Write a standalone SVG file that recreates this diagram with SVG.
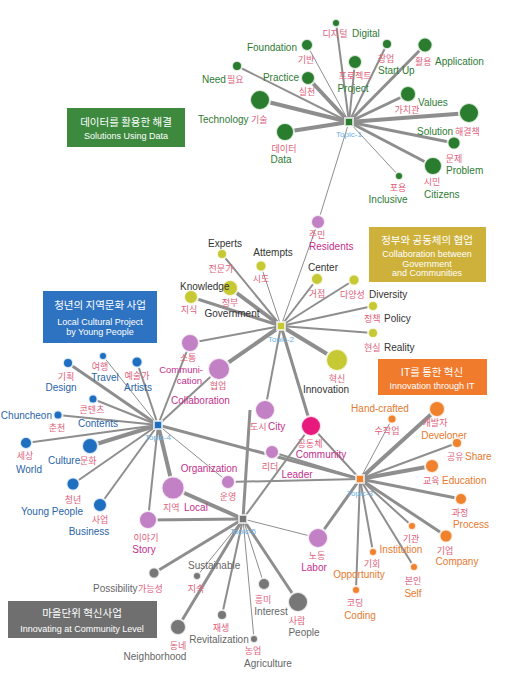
<svg xmlns="http://www.w3.org/2000/svg" width="515" height="678" viewBox="0 0 515 678">
<style>
.e{stroke:#8e8e8e;fill:none}
.w1{stroke-width:1}.w2{stroke-width:2}.w3{stroke-width:3}.w4{stroke-width:4}
text{font-family:"Liberation Sans","Noto Sans CJK KR",sans-serif;font-size:10px}
.ko{font-family:"Noto Sans CJK KR",sans-serif;font-size:9px;fill:#e0607a}
.mid{text-anchor:middle}.end{text-anchor:end}
.g{fill:#2f7a35}.dk{fill:#333}.m{fill:#c3308c}.b{fill:#2a64a8}.o{fill:#e57a30}.gr{fill:#666}
.sm{font-size:9.5px}
circle{stroke:#fff;stroke-opacity:0.8;stroke-width:2}
.ng{fill:#2a7d2e}.ny{fill:#c7c934}.np{fill:#c281c4}.nh{fill:#e8197d}.nb{fill:#1f6fc0}.no{fill:#f0822e}.nx{fill:#777}
.t{font-size:8px;fill:#6aaee0;text-anchor:middle}
.bx1{font-family:"Noto Sans CJK KR",sans-serif;font-size:10.5px;fill:#fff;text-anchor:middle}
.bx2{font-size:9px;fill:#fff;text-anchor:middle}
.hub{stroke:#fff;stroke-opacity:0.7;stroke-width:2}
</style>
<g id="edges">
<line class="e w2" x1="349" y1="122" x2="336" y2="23"/>
<line class="e w1" x1="349" y1="122" x2="307" y2="45"/>
<line class="e w2" x1="349" y1="122" x2="237" y2="66"/>
<line class="e w4" x1="349" y1="122" x2="308" y2="78"/>
<line class="e w4" x1="349" y1="122" x2="260" y2="100"/>
<line class="e w4" x1="349" y1="122" x2="285" y2="132"/>
<line class="e w2" x1="349" y1="122" x2="355" y2="62"/>
<line class="e w2" x1="349" y1="122" x2="387" y2="44"/>
<line class="e w3" x1="349" y1="122" x2="425" y2="45"/>
<line class="e w3" x1="349" y1="122" x2="408" y2="94"/>
<line class="e w4" x1="349" y1="122" x2="469" y2="113"/>
<line class="e w3" x1="349" y1="122" x2="454" y2="143"/>
<line class="e w3" x1="349" y1="122" x2="433" y2="166"/>
<line class="e w1" x1="349" y1="122" x2="399" y2="176"/>
<line class="e w1" x1="349" y1="122" x2="318" y2="222"/>
<line class="e w1" x1="281" y1="326" x2="318" y2="222"/>
<line class="e w2" x1="281" y1="326" x2="222" y2="254"/>
<line class="e w1" x1="281" y1="326" x2="261" y2="266"/>
<line class="e w3" x1="281" y1="326" x2="191" y2="297"/>
<line class="e w4" x1="281" y1="326" x2="230" y2="288"/>
<line class="e w2" x1="281" y1="326" x2="317" y2="279"/>
<line class="e w2" x1="281" y1="326" x2="354" y2="280"/>
<line class="e w2" x1="281" y1="326" x2="373" y2="306"/>
<line class="e w2" x1="281" y1="326" x2="373" y2="333"/>
<line class="e w4" x1="281" y1="326" x2="337" y2="360"/>
<line class="e w2" x1="281" y1="326" x2="190" y2="343"/>
<line class="e w4" x1="281" y1="326" x2="219" y2="369"/>
<line class="e w2" x1="281" y1="326" x2="265" y2="410"/>
<line class="e w3" x1="281" y1="326" x2="311" y2="426"/>
<line class="e w3" x1="158" y1="425" x2="68" y2="363"/>
<line class="e w1" x1="158" y1="425" x2="103" y2="356"/>
<line class="e w2" x1="158" y1="425" x2="137" y2="362"/>
<line class="e w2" x1="158" y1="425" x2="93" y2="399"/>
<line class="e w2" x1="158" y1="425" x2="58" y2="415"/>
<line class="e w2" x1="158" y1="425" x2="26" y2="443"/>
<line class="e w4" x1="158" y1="425" x2="90" y2="446"/>
<line class="e w2" x1="158" y1="425" x2="73" y2="484"/>
<line class="e w2" x1="158" y1="425" x2="100" y2="505"/>
<line class="e w2" x1="158" y1="425" x2="148" y2="520"/>
<line class="e w4" x1="158" y1="425" x2="173" y2="488"/>
<line class="e w1" x1="158" y1="425" x2="228" y2="482"/>
<line class="e w2" x1="158" y1="425" x2="190" y2="343"/>
<line class="e w2" x1="158" y1="425" x2="219" y2="369"/>
<line class="e w3" x1="158" y1="425" x2="360" y2="479"/>
<line class="e w1" x1="360" y1="479" x2="392" y2="419"/>
<line class="e w4" x1="360" y1="479" x2="437" y2="409"/>
<line class="e w2" x1="360" y1="479" x2="457" y2="443"/>
<line class="e w4" x1="360" y1="479" x2="432" y2="466"/>
<line class="e w3" x1="360" y1="479" x2="461" y2="499"/>
<line class="e w3" x1="360" y1="479" x2="446" y2="536"/>
<line class="e w2" x1="360" y1="479" x2="412" y2="526"/>
<line class="e w2" x1="360" y1="479" x2="414" y2="567"/>
<line class="e w2" x1="360" y1="479" x2="373" y2="552"/>
<line class="e w2" x1="360" y1="479" x2="356" y2="590"/>
<line class="e w3" x1="360" y1="479" x2="318" y2="538"/>
<line class="e w2" x1="360" y1="479" x2="272" y2="452"/>
<line class="e w2" x1="360" y1="479" x2="311" y2="426"/>
<line class="e w2" x1="360" y1="479" x2="228" y2="482"/>
<line class="e w4" x1="243" y1="519" x2="173" y2="488"/>
<line class="e w3" x1="243" y1="519" x2="148" y2="520"/>
<line class="e w3" x1="243" y1="519" x2="250" y2="410"/>
<line class="e w2" x1="243" y1="519" x2="311" y2="426"/>
<line class="e w1" x1="243" y1="519" x2="318" y2="538"/>
<line class="e w3" x1="243" y1="519" x2="154" y2="573"/>
<line class="e w1" x1="243" y1="519" x2="197" y2="576"/>
<line class="e w3" x1="243" y1="519" x2="178" y2="627"/>
<line class="e w2" x1="243" y1="519" x2="222" y2="615"/>
<line class="e w1" x1="243" y1="519" x2="254" y2="639"/>
<line class="e w1" x1="243" y1="519" x2="264" y2="584"/>
<line class="e w3" x1="243" y1="519" x2="298" y2="602"/>
</g>
<g id="box-data"><rect x="67" y="108" width="118" height="39" fill="#3d8a3f"/><text class="bx1" x="126" y="126">데이터를 활용한 해결</text><text class="bx2" x="126" y="139">Solutions Using Data</text></g>
<g id="box-gov"><rect x="369" y="227" width="117" height="55" fill="#cdb13a"/><text class="bx1" x="427" y="244">정부와 공동체의 협업</text><text class="bx2" x="427" y="257">Collaboration between</text><text class="bx2" x="427" y="266.5">Government</text><text class="bx2" x="427" y="276">and Communities</text></g>
<g id="box-young"><rect x="43" y="291" width="114" height="52" fill="#2e73c2"/><text class="bx1" x="100" y="309">청년의 지역문화 사업</text><text class="bx2" x="100" y="325">Local Cultural Project</text><text class="bx2" x="100" y="335">by Young People</text></g>
<g id="box-it"><rect x="378" y="359" width="109" height="36" fill="#f07b2d"/><text class="bx1" x="432" y="376">IT를 통한 혁신</text><text class="bx2" x="432" y="389">Innovation through IT</text></g>
<g id="box-village"><rect x="8" y="601" width="149" height="37" fill="#6f6f6f"/><text class="bx1" x="82" y="617">마을단위 혁신사업</text><text class="bx2" x="82" y="632">Innovating at Community Level</text></g>
<g id="topic-1"><rect class="hub" x="345" y="118" width="8" height="8" fill="#2a7d2e"/><text class="t" x="349" y="137">Topic-1</text></g>
<g id="topic-2"><rect class="hub" x="277" y="322" width="8" height="8" fill="#c7c934"/><text class="t" x="281" y="342">Topic-2</text></g>
<g id="topic-3"><rect class="hub" x="356" y="475" width="8" height="8" fill="#f0822e"/><text class="t" x="360" y="496">Topic-3</text></g>
<g id="topic-4"><rect class="hub" x="154" y="421" width="8" height="8" fill="#1f6fc0"/><text class="t" x="158" y="440">Topic-4</text></g>
<g id="topic-5"><rect class="hub" x="239" y="515" width="8" height="8" fill="#777"/><text class="t" x="243" y="534">Topic-5</text></g>
<g id="n-digital"><circle class="ng" cx="336" cy="23" r="4"/><text class="ko mid" x="335" y="37">디지털</text><text class="g" x="352" y="37">Digital</text></g>
<g id="n-foundation"><circle class="ng" cx="307" cy="45" r="6"/><text class="g end" x="297" y="51">Foundation</text><text class="ko mid" x="306" y="63">기반</text></g>
<g id="n-need"><circle class="ng" cx="237" cy="66" r="5"/><text class="g" x="202" y="83">Need</text><text class="ko" x="227" y="83">필요</text></g>
<g id="n-practice"><circle class="ng" cx="308" cy="78" r="7"/><text class="g end" x="299" y="81">Practice</text><text class="ko mid" x="307" y="95">실천</text></g>
<g id="n-technology"><circle class="ng" cx="260" cy="100" r="10"/><text class="g" x="198" y="123">Technology</text><text class="ko" x="251" y="123">기술</text></g>
<g id="n-data"><circle class="ng" cx="285" cy="132" r="9"/><text class="ko mid" x="284" y="152">데이터</text><text class="g mid" x="281" y="163">Data</text></g>
<g id="n-project"><circle class="ng" cx="355" cy="62" r="7"/><text class="ko mid" x="355" y="79">프로젝트</text><text class="g mid" x="353" y="92">Project</text></g>
<g id="n-startup"><circle class="ng" cx="387" cy="44" r="5"/><text class="ko mid" x="386" y="62">창업</text><text class="g" x="378" y="74">Start Up</text></g>
<g id="n-application"><circle class="ng" cx="425" cy="45" r="7.5"/><text class="ko" x="415" y="65">활용</text><text class="g" x="435" y="65">Application</text></g>
<g id="n-values"><circle class="ng" cx="408" cy="94" r="8"/><text class="g" x="418" y="106">Values</text><text class="ko mid" x="407" y="113">가치관</text></g>
<g id="n-solution"><circle class="ng" cx="469" cy="113" r="10"/><text class="g" x="417" y="135">Solution</text><text class="ko" x="455" y="135">해결책</text></g>
<g id="n-problem"><circle class="ng" cx="454" cy="143" r="6.5"/><text class="ko mid" x="454" y="162">문제</text><text class="g" x="446" y="174">Problem</text></g>
<g id="n-citizens"><circle class="ng" cx="433" cy="166" r="9"/><text class="ko mid" x="432" y="185">시민</text><text class="g" x="424" y="198">Citizens</text></g>
<g id="n-inclusive"><circle class="ng" cx="399" cy="176" r="4"/><text class="ko mid" x="398" y="191">포용</text><text class="g mid" x="388" y="203">Inclusive</text></g>
<g id="n-residents"><circle class="np" cx="318" cy="222" r="7"/><text class="ko mid" x="317" y="238">주민</text><text class="m" x="309" y="250">Residents</text></g>
<g id="n-experts"><circle class="ny" cx="222" cy="254" r="5"/><text class="dk mid" x="225" y="247">Experts</text><text class="ko mid" x="221" y="272">전문가</text></g>
<g id="n-attempts"><circle class="ny" cx="261" cy="266" r="5.5"/><text class="dk mid" x="273" y="256">Attempts</text><text class="ko mid" x="261" y="282">시도</text></g>
<g id="n-center"><circle class="ny" cx="317" cy="279" r="6"/><text class="dk mid" x="323" y="271">Center</text><text class="ko mid" x="317" y="297">거점</text></g>
<g id="n-government"><circle class="ny" cx="230" cy="288" r="8"/><text class="ko mid" x="230" y="306">정부</text><text class="dk mid" x="232" y="317">Government</text></g>
<g id="n-knowledge"><circle class="ny" cx="191" cy="297" r="7"/><text class="dk" x="180" y="290">Knowledge</text><text class="ko mid" x="189" y="313">지식</text></g>
<g id="n-diversity"><circle class="ny" cx="354" cy="280" r="5.5"/><text class="ko" x="340" y="298">다양성</text><text class="dk" x="369" y="298">Diversity</text></g>
<g id="n-policy"><circle class="ny" cx="373" cy="306" r="5"/><text class="ko" x="364" y="322">정책</text><text class="dk" x="384" y="322">Policy</text></g>
<g id="n-reality"><circle class="ny" cx="373" cy="333" r="5"/><text class="ko" x="364" y="351">현실</text><text class="dk" x="384" y="351">Reality</text></g>
<g id="n-innovation"><circle class="ny" cx="337" cy="360" r="11"/><text class="ko mid" x="337" y="382">혁신</text><text class="dk mid" x="326" y="393">Innovation</text></g>
<g id="n-communication"><circle class="np" cx="190" cy="343" r="9"/><text class="ko mid" x="188" y="361">소통</text><text class="m end sm" x="203" y="373">Communi-</text><text class="m end sm" x="202" y="384">cation</text></g>
<g id="n-collaboration"><circle class="np" cx="219" cy="369" r="11"/><text class="ko mid" x="218" y="389">협업</text><text class="m" x="171" y="404">Collaboration</text></g>
<g id="n-city"><circle class="np" cx="265" cy="410" r="10"/><text class="ko" x="250" y="430">도시</text><text class="m" x="268" y="430">City</text></g>
<g id="n-community"><circle class="nh" cx="311" cy="426" r="10"/><text class="ko mid" x="310" y="447">공동체</text><text class="m mid" x="321" y="458">Community</text></g>
<g id="n-leader"><circle class="np" cx="272" cy="452" r="7"/><text class="ko mid" x="270" y="470">리더</text><text class="m mid" x="297" y="478">Leader</text></g>
<g id="n-organization"><circle class="np" cx="228" cy="482" r="7"/><text class="m mid" x="209" y="472">Organization</text><text class="ko mid" x="228" y="500">운영</text></g>
<g id="n-local"><circle class="np" cx="173" cy="488" r="11.5"/><text class="ko" x="163" y="511">지역</text><text class="m" x="184" y="511">Local</text></g>
<g id="n-story"><circle class="np" cx="148" cy="520" r="9"/><text class="ko mid" x="146" y="541">이야기</text><text class="m mid" x="144" y="553">Story</text></g>
<g id="n-labor"><circle class="np" cx="318" cy="538" r="10"/><text class="ko mid" x="317" y="559">노동</text><text class="m mid" x="314" y="571">Labor</text></g>
<g id="n-design"><circle class="nb" cx="68" cy="363" r="5"/><text class="ko mid" x="66" y="380">기획</text><text class="b mid" x="61" y="391">Design</text></g>
<g id="n-travel"><circle class="nb" cx="103" cy="356" r="4"/><text class="ko mid" x="100" y="370">여행</text><text class="b mid" x="105" y="381">Travel</text></g>
<g id="n-artists"><circle class="nb" cx="137" cy="362" r="5.5"/><text class="ko mid" x="137" y="379">예술가</text><text class="b mid" x="138" y="391">Artists</text></g>
<g id="n-contents"><circle class="nb" cx="93" cy="399" r="4.5"/><text class="ko mid" x="92" y="413">콘텐츠</text><text class="b mid" x="98" y="427">Contents</text></g>
<g id="n-chuncheon"><circle class="nb" cx="58" cy="415" r="4.5"/><text class="b end" x="52" y="419">Chuncheon</text><text class="ko mid" x="57" y="431">춘천</text></g>
<g id="n-world"><circle class="nb" cx="26" cy="443" r="6"/><text class="ko mid" x="25" y="459">세상</text><text class="b mid" x="29" y="473">World</text></g>
<g id="n-culture"><circle class="nb" cx="90" cy="446" r="8"/><text class="b" x="48" y="464">Culture</text><text class="ko" x="80" y="464">문화</text></g>
<g id="n-youngpeople"><circle class="nb" cx="73" cy="484" r="6.5"/><text class="ko mid" x="73" y="503">청년</text><text class="b mid" x="52" y="515">Young People</text></g>
<g id="n-business"><circle class="nb" cx="100" cy="505" r="7"/><text class="ko mid" x="100" y="523">사업</text><text class="b mid" x="89" y="535">Business</text></g>
<g id="n-handcrafted"><circle class="no" cx="392" cy="419" r="4.5"/><text class="o mid" x="380" y="412">Hand-crafted</text><text class="ko mid" x="387" y="434">수작업</text></g>
<g id="n-developer"><circle class="no" cx="437" cy="409" r="8"/><text class="ko mid" x="435" y="426">개발자</text><text class="o mid" x="444" y="439">Developer</text></g>
<g id="n-share"><circle class="no" cx="457" cy="443" r="5"/><text class="ko" x="447" y="460">공유</text><text class="o" x="465" y="460">Share</text></g>
<g id="n-education"><circle class="no" cx="432" cy="466" r="7"/><text class="ko" x="423" y="484">교육</text><text class="o" x="442" y="484">Education</text></g>
<g id="n-process"><circle class="no" cx="461" cy="499" r="6"/><text class="ko mid" x="460" y="516">과정</text><text class="o mid" x="471" y="528">Process</text></g>
<g id="n-company"><circle class="no" cx="446" cy="536" r="6.5"/><text class="ko mid" x="445" y="554">기업</text><text class="o mid" x="457" y="565">Company</text></g>
<g id="n-institution"><circle class="no" cx="412" cy="526" r="4"/><text class="ko mid" x="411" y="542">기관</text><text class="o mid" x="401" y="553">Institution</text></g>
<g id="n-opportunity"><circle class="no" cx="373" cy="552" r="4"/><text class="ko mid" x="372" y="567">기회</text><text class="o mid" x="359" y="578">Opportunity</text></g>
<g id="n-self"><circle class="no" cx="414" cy="567" r="4"/><text class="ko mid" x="413" y="584">본인</text><text class="o mid" x="413" y="597">Self</text></g>
<g id="n-coding"><circle class="no" cx="356" cy="590" r="4"/><text class="ko mid" x="355" y="606">코딩</text><text class="o mid" x="360" y="619">Coding</text></g>
<g id="n-possibility"><circle class="nx" cx="154" cy="573" r="5.5"/><text class="gr" x="93" y="592">Possibility</text><text class="ko" x="138" y="592">가능성</text></g>
<g id="n-sustainable"><circle class="nx" cx="197" cy="576" r="4"/><text class="gr" x="188" y="569">Sustainable</text><text class="ko mid" x="196" y="592">지속</text></g>
<g id="n-interest"><circle class="nx" cx="264" cy="584" r="6"/><text class="ko mid" x="263" y="603">흥미</text><text class="gr mid" x="271" y="615">Interest</text></g>
<g id="n-people"><circle class="nx" cx="298" cy="602" r="10"/><text class="ko mid" x="297" y="624">사람</text><text class="gr mid" x="304" y="636">People</text></g>
<g id="n-neighborhood"><circle class="nx" cx="178" cy="627" r="8"/><text class="ko mid" x="178" y="649">동네</text><text class="gr mid" x="155" y="660">Neighborhood</text></g>
<g id="n-revitalization"><circle class="nx" cx="222" cy="615" r="5"/><text class="ko mid" x="221" y="631">재생</text><text class="gr mid" x="219" y="643">Revitalization</text></g>
<g id="n-agriculture"><circle class="nx" cx="254" cy="639" r="4"/><text class="ko mid" x="253" y="654">농업</text><text class="gr mid" x="268" y="667">Agriculture</text></g>
</svg>
